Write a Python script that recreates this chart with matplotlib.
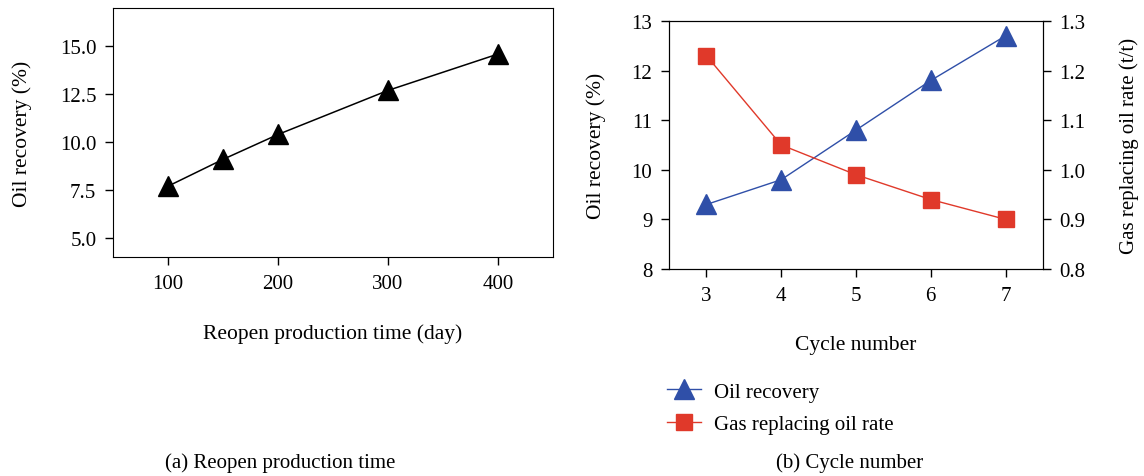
import matplotlib.pyplot as plt

plt.rcParams["font.family"] = ["Liberation Serif", "DejaVu Serif"]
plt.rcParams["font.size"] = 15

# (a) reopen production time
reopen_days = [100, 150, 200, 300, 400]
reopen_recovery = [7.7, 9.1, 10.4, 12.7, 14.6]

# (b) cycle number
cycles = [3, 4, 5, 6, 7]
cycle_recovery = [9.3, 9.8, 10.8, 11.8, 12.7]
gas_oil_rate = [1.23, 1.05, 0.99, 0.94, 0.90]

BLUE = "#2f4fa8"
RED = "#e0392a"

fig = plt.figure(figsize=(11.44, 4.77), dpi=100)

# --- panel (a)
ax1 = fig.add_axes([0.0988, 0.459, 0.3846, 0.522])
ax1.plot(reopen_days, reopen_recovery, color="black", lw=1.1, marker="^", ms=14)
ax1.set_xlim(50, 450)
ax1.set_ylim(4, 17)
ax1.set_xticks([100, 200, 300, 400])
ax1.set_yticks([5.0, 7.5, 10.0, 12.5, 15.0])
ax1.set_yticklabels([f"{v:.1f}" for v in [5.0, 7.5, 10.0, 12.5, 15.0]])
ax1.tick_params(direction="out", length=6, width=1, pad=6)
ax1.set_xlabel("Reopen production time (day)", fontsize=15.5, labelpad=22)
ax1.set_ylabel("Oil recovery (%)", fontsize=15.5, labelpad=20)

# --- panel (b)
ax2 = fig.add_axes([0.5848, 0.434, 0.3269, 0.520])
ax3 = ax2.twinx()
l1, = ax2.plot(cycles, cycle_recovery, color=BLUE, lw=1, marker="^", ms=14,
               label="Oil recovery")
l2, = ax3.plot(cycles, gas_oil_rate, color=RED, lw=1, marker="s", ms=11.5,
               label="Gas replacing oil rate")
ax2.set_xlim(2.5, 7.5)
ax2.set_ylim(8, 13)
ax3.set_ylim(0.8, 1.3)
ax2.set_xticks(cycles)
ax2.set_yticks(range(8, 14))
ax3.set_yticks([0.8, 0.9, 1.0, 1.1, 1.2, 1.3])
ax2.tick_params(direction="out", length=6, width=1, pad=6)
ax3.tick_params(direction="out", length=6, width=1, pad=6)
ax2.set_xlabel("Cycle number", fontsize=15.5, labelpad=22)
ax2.set_ylabel("Oil recovery (%)", fontsize=15.5, labelpad=18)
ax3.set_ylabel("Gas replacing oil rate (t/t)", fontsize=15, labelpad=24)

fig.legend(handles=[l1, l2], loc="upper left", bbox_to_anchor=(0.583, 0.197),
           frameon=False, borderpad=0, borderaxespad=0, handlelength=1.65,
           handletextpad=0.6, labelspacing=0.62)

fig.text(0.245, 0.029, "(a) Reopen production time", ha="center", va="center")
fig.text(0.743, 0.029, "(b) Cycle number", ha="center", va="center")

fig.savefig("out.png", dpi=100)
